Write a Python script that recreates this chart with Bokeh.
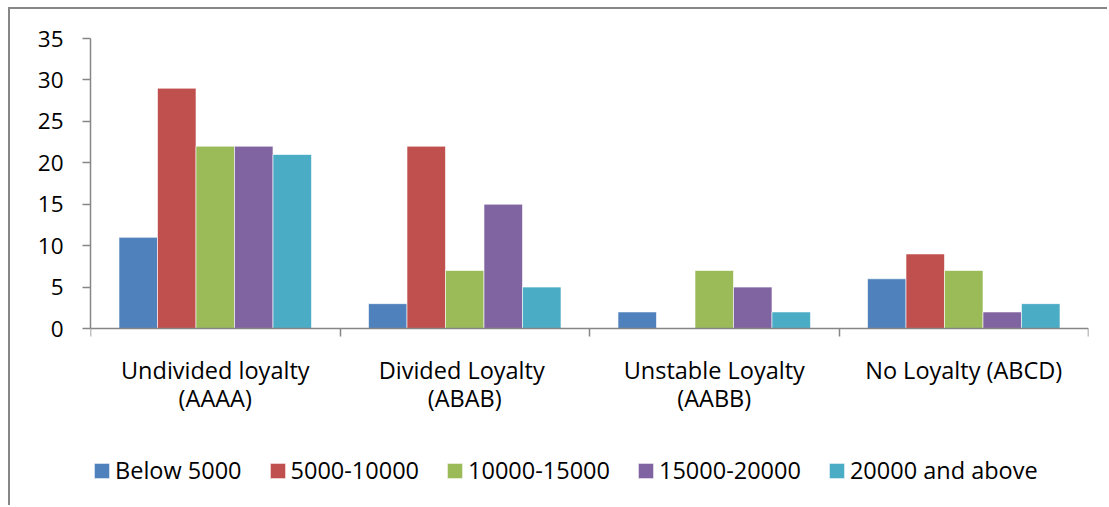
import numpy as np
from bokeh.plotting import figure
from bokeh.models import (ColumnDataSource, Range1d, FixedTicker, Legend, LegendItem)
from bokeh.transform import dodge
from bokeh.embed import file_html
from bokeh.resources import INLINE

categories = ["Undivided loyalty\n(AAAA)", "Divided  Loyalty\n(ABAB)",
              "Unstable Loyalty\n(AABB)", "No Loyalty (ABCD)"]
series_names = ["Below 5000", "5000-10000", "10000-15000", "15000-20000", "20000 and above"]
below_5000 = [11, 3, 2, 6]
s5000_10000 = [29, 22, 0, 9]
s10000_15000 = [22, 7, 7, 7]
s15000_20000 = [22, 15, 5, 2]
s20000_above = [21, 5, 2, 3]
y_ticks = [0, 5, 10, 15, 20, 25, 30, 35]

colors = ["#4F81BD", "#C0504D", "#9BBB59", "#8064A2", "#4BACC6"]
series = [below_5000, s5000_10000, s10000_15000, s15000_20000, s20000_above]

FONT = "Open Sans"
FS = "23.5px"
FS_Y = "22.5px"

centers = np.arange(len(categories)) + 0.5
data = {"x": centers}
for k, s in enumerate(series):
    data[f"s{k}"] = s
src = ColumnDataSource(data)

W, H = 1099, 498
p = figure(width=W, height=H, output_backend="svg", toolbar_location=None,
           x_range=Range1d(0, len(categories)), y_range=Range1d(-21.36, 35),
           min_border_left=80, min_border_right=21, min_border_top=29, min_border_bottom=2,
           styles={"border-left": "2px solid #878787", "border-top": "2px solid #878787",
                   "margin-left": "8px", "margin-top": "7px"})
p.outline_line_color = None
p.xgrid.visible = False
p.ygrid.visible = False
p.background_fill_color = "white"
p.border_fill_color = "white"

bw = 0.1543
renderers = []
for k in range(len(series)):
    off = (k - 2) * bw
    r = p.vbar(x=dodge("x", off), top=f"s{k}", width=bw, source=src,
               fill_color=colors[k], line_color="white", line_width=0.6)
    renderers.append(r)

axis_color = "#868686"
xa = p.xaxis[0]
xa.fixed_location = 0
xa.ticker = FixedTicker(ticks=list(centers), minor_ticks=list(range(len(categories) + 1)))
xa.major_label_overrides = {float(c): lab for c, lab in zip(centers, categories)}
xa.major_tick_out = 0
xa.major_tick_in = 0
xa.minor_tick_out = 8
xa.minor_tick_in = 0
xa.minor_tick_line_color = axis_color
xa.minor_tick_line_width = 1.5
xa.axis_line_color = axis_color
xa.axis_line_width = 1.5
xa.major_label_text_font = FONT
xa.major_label_text_font_size = FS
xa.major_label_text_color = "black"
xa.major_label_text_line_height = 0.9
xa.major_label_standoff = 17

ya = p.yaxis[0]
ya.bounds = (0, 35)
ya.ticker = FixedTicker(ticks=y_ticks)
ya.major_tick_out = 8
ya.major_tick_in = 0
ya.minor_tick_out = 0
ya.minor_tick_in = 0
ya.major_tick_line_color = axis_color
ya.major_tick_line_width = 1.5
ya.axis_line_color = axis_color
ya.axis_line_width = 1.5
ya.major_label_text_font = FONT
ya.major_label_text_font_size = FS_Y
ya.major_label_text_color = "black"
ya.major_label_standoff = 19

items = [LegendItem(label=n, renderers=[r]) for n, r in zip(series_names, renderers)]
legend = Legend(items=items, orientation="horizontal", location=(2, 19),
                glyph_width=19, glyph_height=19, label_standoff=4, spacing=26,
                padding=0, margin=0, border_line_color=None, background_fill_alpha=0,
                label_text_font=FONT, label_text_font_size=FS, label_text_color="black")
p.add_layout(legend, "center")

open("out.html", "w").write(file_html(p, INLINE))
